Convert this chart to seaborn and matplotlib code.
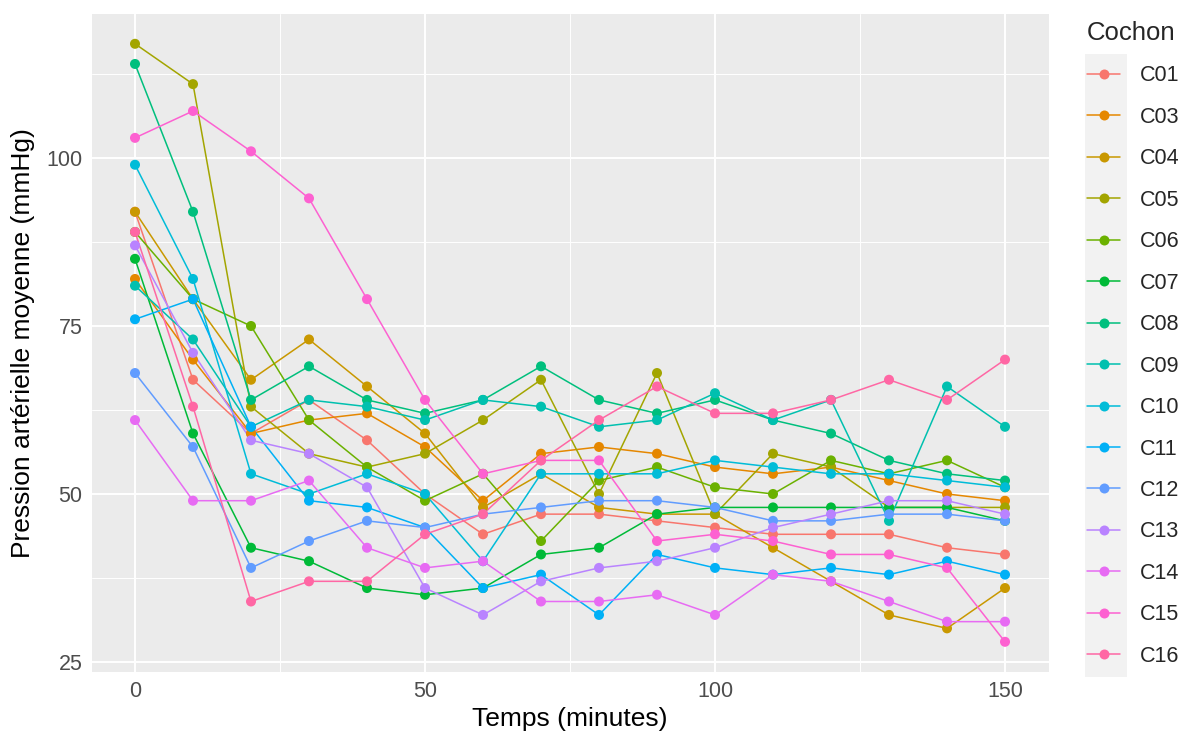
import numpy as np
import pandas as pd
import matplotlib
matplotlib.use("Agg")
import matplotlib.pyplot as plt
import seaborn as sns
from matplotlib.lines import Line2D
from matplotlib.patches import Rectangle

# Measurement times (minutes)
temps = [0, 10, 20, 30, 40, 50, 60, 70, 80, 90, 100, 110, 120, 130, 140, 150]

# Mean arterial pressure (mmHg) per pig
c01 = [92, 67, 59, 64, 58, 50, 44, 47, 47, 46, 45, 44, 44, 44, 42, 41]
c03 = [82, 70, 59, 61, 62, 57, 49, 56, 57, 56, 54, 53, 54, 52, 50, 49]
c04 = [92, 79, 67, 73, 66, 59, 48, 53, 48, 47, 47, 42, 37, 32, 30, 36]
c05 = [117, 111, 63, 56, 54, 56, 61, 67, 50, 68, 47, 56, 54, 48, 48, 48]
c06 = [89, 79, 75, 61, 54, 49, 53, 43, 52, 54, 51, 50, 55, 53, 55, 51]
c07 = [85, 59, 42, 40, 36, 35, 36, 41, 42, 47, 48, 48, 48, 48, 48, 46]
c08 = [114, 92, 64, 69, 64, 62, 64, 69, 64, 62, 64, 61, 59, 55, 53, 52]
c09 = [81, 73, 60, 64, 63, 61, 64, 63, 60, 61, 65, 61, 64, 46, 66, 60]
c10 = [99, 82, 53, 50, 53, 50, 40, 53, 53, 53, 55, 54, 53, 53, 52, 51]
c11 = [76, 79, 60, 49, 48, 45, 36, 38, 32, 41, 39, 38, 39, 38, 40, 38]
c12 = [68, 57, 39, 43, 46, 45, 47, 48, 49, 49, 48, 46, 46, 47, 47, 46]
c13 = [87, 71, 58, 56, 51, 36, 32, 37, 39, 40, 42, 45, 47, 49, 49, 47]
c14 = [61, 49, 49, 52, 42, 39, 40, 34, 34, 35, 32, 38, 37, 34, 31, 31]
c15 = [103, 107, 101, 94, 79, 64, 53, 55, 55, 43, 44, 43, 41, 41, 39, 28]
c16 = [89, 63, 34, 37, 37, 44, 47, 55, 61, 66, 62, 62, 64, 67, 64, 70]

cochons = ["C01", "C03", "C04", "C05", "C06", "C07", "C08", "C09",
           "C10", "C11", "C12", "C13", "C14", "C15", "C16"]
series = [c01, c03, c04, c05, c06, c07, c08, c09,
          c10, c11, c12, c13, c14, c15, c16]

# ggplot-style evenly spaced hues
palette = ["#F8766D", "#E58700", "#C99800", "#A3A500", "#6BB100",
           "#00BA38", "#00BF7D", "#00C0AF", "#00BCD8", "#00B0F6",
           "#619CFF", "#B983FF", "#E76BF3", "#FD61D1", "#FF67A4"]
colors = dict(zip(cochons, palette))

df = pd.DataFrame({
    "Temps": np.tile(temps, len(cochons)),
    "Pression": np.concatenate(series),
    "Cochon": np.repeat(cochons, len(temps)),
})

sns.set_theme(style="darkgrid", rc={
    "axes.facecolor": "#EBEBEB",
    "grid.color": "white",
    "axes.edgecolor": "#EBEBEB",
})
plt.rcParams["font.family"] = ["Liberation Sans", "DejaVu Sans"]

W, H = 1189, 742
fig = plt.figure(figsize=(W / 100, H / 100), dpi=100)
fig.patch.set_facecolor("white")
left, right, top, bottom = 91.5, 1048.5, 13.9, 671.7
ax = fig.add_axes([left / W, 1 - bottom / H, (right - left) / W, (bottom - top) / H])

sns.lineplot(data=df, x="Temps", y="Pression", hue="Cochon", palette=colors,
             hue_order=cochons, linewidth=1.1, ax=ax, legend=False, zorder=2)
sns.scatterplot(data=df, x="Temps", y="Pression", hue="Cochon", palette=colors,
                hue_order=cochons, s=52, linewidth=0, ax=ax, legend=False, zorder=3)

ax.set_xlim(-7.5, 157.5)
ax.set_ylim(23.55, 121.45)
ax.set_xticks([0, 50, 100, 150])
ax.set_xticks([25, 75, 125], minor=True)
ax.set_yticks([25, 50, 75, 100])
ax.set_yticks([37.5, 62.5, 87.5, 112.5], minor=True)
ax.grid(which="major", color="white", linewidth=1.4)
ax.grid(which="minor", color="white", linewidth=0.7)
for s in ax.spines.values():
    s.set_visible(False)
ax.tick_params(axis="both", which="major", length=3.5, width=0.9, color="#333333",
               labelsize=15.5, labelcolor="#4D4D4D", pad=3)
ax.tick_params(axis="both", which="minor", length=0)

ax.set_xlabel("Temps (minutes)", fontsize=19, color="black", labelpad=4)
ax.set_ylabel("Pression artérielle moyenne (mmHg)", fontsize=19, color="black", labelpad=8)

# Legend with grey key column
fig.patches.append(Rectangle((1085 / W, 1 - 677 / H), 42 / W, (677 - 54) / H,
                             transform=fig.transFigure, facecolor="#F2F2F2",
                             edgecolor="none", zorder=0))
handles = [Line2D([], [], color=colors[c], linewidth=1.1, marker="o",
                  markersize=7.2, markeredgewidth=0) for c in cochons]
leg = fig.legend(handles, cochons, title="Cochon", loc="upper left",
                 bbox_to_anchor=(1087 / W, 1 - 21 / H), frameon=False,
                 fontsize=15.5, title_fontsize=18.5, handlelength=1.55,
                 handletextpad=0.9, labelspacing=0.95, borderpad=0,
                 borderaxespad=0, alignment="left")

fig.savefig("out.png", dpi=100)
